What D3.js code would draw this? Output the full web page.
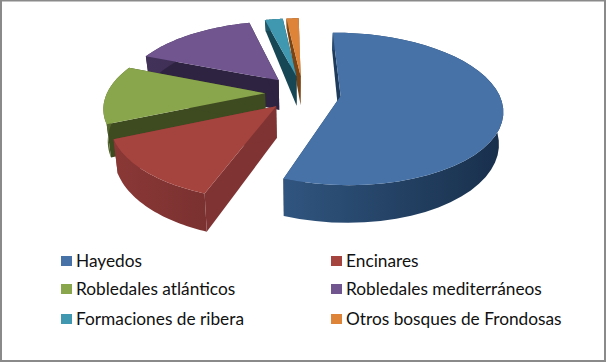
<!DOCTYPE html>
<html>
<head>
<meta charset="utf-8">
<script src="https://cdn.jsdelivr.net/npm/d3@7"></script>
<style>
  html, body { margin: 0; padding: 0; background: #fff; }
  svg { display: block; }
  text { font-family: Lato, "Open Sans", sans-serif; font-size: 17.3px; fill: #111; }
</style>
</head>
<body>
<svg id="chart" width="606" height="362"></svg>
<script>
const categories = ["Hayedos", "Encinares", "Robledales atlánticos", "Robledales mediterráneos", "Formaciones de ribera", "Otros bosques de Frondosas"];
const shares = [55.8, 13, 12.5, 15, 2.2, 1.5];
const topColors = ["#4672a8", "#a5443f", "#8aa64c", "#70558f", "#3f97b0", "#dd8438"];
const cutColors = ["#1f3b5c", "#7f3433", "#3e4a20", "#2e2340", "#174654", "#7a4415"];
const rimLeft = ["#30557f", "#8a3836", "#55682c", "#42325a", "#1f5a6b", "#8a5018"];
const rimRight = ["#182f4b", "#7a3130", "#4a5a26", "#382a4c", "#1a4d5c", "#7a4415"];

const canvas = d3.select("#chart");

// CANVAS SETUP
const cx = 303, cy = 93, radiusX = 158, radiusY = 73;
const persp = 0.17, explode = 0.24;
const shrink = 0.978;

canvas.append("rect")
  .attr("x", 1).attr("y", 0.5).attr("width", 604).attr("height", 360.5)
  .attr("fill", "#fff").attr("stroke", "#8a8a8a").attr("stroke-width", 2);

const pie = d3.pie()
  .sort(null)
  .startAngle(-1 * Math.PI / 180)
  .endAngle(359 * Math.PI / 180);

const slices = pie(shares).map((d, i) => ({ ...d, i }));

// plane (u, v) -> top surface of the disc
function topPoint(u, v) {
  const s = 1 / (1 - persp * v);
  return [cx + s * radiusX * u, cy + s * radiusY * v];
}

// same plane point, pushed down to the bottom of the disc
function bottomPoint(u, v) {
  const s = 1 / (1 - persp * v);
  const p = topPoint(u, v);
  const back = v < 0 ? 10 * v * v : 0;
  return [cx + (p[0] - cx) * shrink, p[1] + s * 31 - back];
}

const line = d3.line();

const defs = canvas.append("defs");
slices.forEach((d) => {
  const g = defs.append("linearGradient").attr("id", `rim${d.i}`);
  g.append("stop").attr("offset", "0%").attr("stop-color", rimLeft[d.i]);
  g.append("stop").attr("offset", "100%").attr("stop-color", rimRight[d.i]);
});

// back slices first, the big front ones on top
const drawOrder = [5, 4, 3, 2, 1, 0];

const sliceGroups = canvas.append("g")
  .selectAll("g")
  .data(drawOrder.map((i) => slices[i]))
  .join("g")
  .attr("class", (d) => `slice s${d.i}`);

sliceGroups.each(function (d) {
  const g = d3.select(this);
  const mid = (d.startAngle + d.endAngle) / 2;
  const ox = explode * Math.sin(mid), oy = -explode * Math.cos(mid);

  const angles = d3.range(0, 41).map((k) => d.startAngle + (d.endAngle - d.startAngle) * k / 40);
  const rim = angles.map((a) => [ox + Math.sin(a), oy - Math.cos(a)]);
  const apex = [ox, oy];

  const rimTop = rim.map((p) => topPoint(p[0], p[1]));
  const rimBottom = rim.map((p) => bottomPoint(p[0], p[1]));
  const apexTop = topPoint(apex[0], apex[1]);
  const apexBottom = bottomPoint(apex[0], apex[1]);

  // cut faces
  g.append("path")
    .attr("d", line([apexTop, rimTop[0], rimBottom[0], apexBottom]) + "Z")
    .attr("fill", cutColors[d.i]);
  g.append("path")
    .attr("d", line([apexTop, rimTop[40], rimBottom[40], apexBottom]) + "Z")
    .attr("fill", cutColors[d.i]);

  // outer wall
  g.append("path")
    .attr("d", line(rimTop.concat(rimBottom.slice().reverse())) + "Z")
    .attr("fill", `url(#rim${d.i})`);

  // top face
  g.append("path")
    .attr("d", line([apexTop].concat(rimTop)) + "Z")
    .attr("fill", topColors[d.i]);
});

// LEGEND
const legendX = d3.scalePoint().domain([0, 1]).range([61, 331]);
const legendY = d3.scaleOrdinal().domain([0, 1, 2]).range([261, 289, 319]);

const legend = canvas.append("g")
  .selectAll("g")
  .data(categories)
  .join("g")
  .attr("transform", (d, i) => `translate(${legendX(i % 2)},${legendY(Math.floor(i / 2))})`);

legend.append("rect")
  .attr("y", -5).attr("width", 11).attr("height", 10)
  .attr("fill", (d, i) => topColors[i]);

legend.append("text")
  .attr("x", 15).attr("dy", "0.35em")
  .text((d) => d);
</script>
</body>
</html>
